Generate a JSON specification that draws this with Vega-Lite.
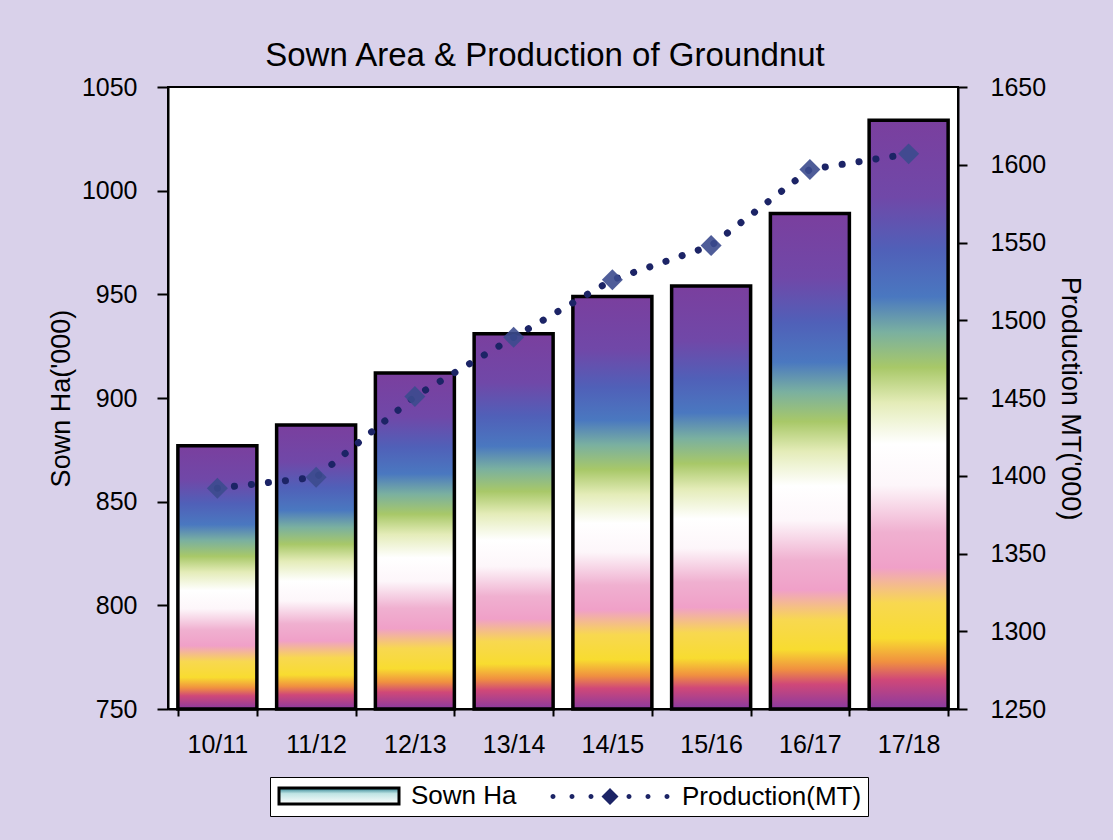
{
  "$schema": "https://vega.github.io/schema/vega-lite/v6.json",
  "autosize": {"type": "none"},
  "padding": {"left": 168, "top": 87, "right": 155, "bottom": 131},
  "width": 790,
  "height": 622,
  "background": "#d9d1ea",
  "title": {
    "text": "Sown Area & Production of Groundnut",
    "font": "Liberation Sans",
    "fontSize": 33,
    "fontWeight": "normal",
    "color": "black",
    "anchor": "middle",
    "offset": 2,
    "dx": -18
  },
  "data": {
    "values": [
      {"season": "10/11", "sown": 877, "production": 1392},
      {"season": "11/12", "sown": 887, "production": 1399},
      {"season": "12/13", "sown": 912, "production": 1451},
      {"season": "13/14", "sown": 931, "production": 1489},
      {"season": "14/15", "sown": 949, "production": 1526},
      {"season": "15/16", "sown": 954, "production": 1548},
      {"season": "16/17", "sown": 989, "production": 1597},
      {"season": "17/18", "sown": 1034, "production": 1607}
    ]
  },
  "encoding": {
    "x": {
      "field": "season",
      "type": "ordinal",
      "sort": null,
      "scale": {"paddingInner": 0.2, "paddingOuter": 0.1},
      "axis": {
        "title": null,
        "labelAngle": 0,
        "labelFont": "Liberation Sans",
        "labelFontSize": 25,
        "labelColor": "black",
        "labelPadding": 16,
        "tickBand": "extent",
        "tickSize": 7,
        "tickWidth": 2,
        "tickColor": "black",
        "domainColor": "black",
        "domainWidth": 2
      }
    }
  },
  "layer": [
    {
      "mark": {
        "type": "bar",
        "strokeWidth": 3.5,
        "fill": {
          "gradient": "linear",
          "x1": 0, "y1": 0, "x2": 0, "y2": 1,
          "stops": [
            {"offset": 0.0, "color": "#7a3f9e"},
            {"offset": 0.13, "color": "#7048a8"},
            {"offset": 0.22, "color": "#5060b8"},
            {"offset": 0.30, "color": "#4a78c0"},
            {"offset": 0.36, "color": "#7ab0a0"},
            {"offset": 0.42, "color": "#a8c868"},
            {"offset": 0.48, "color": "#e4ecb8"},
            {"offset": 0.55, "color": "#ffffff"},
            {"offset": 0.62, "color": "#fdf6fa"},
            {"offset": 0.70, "color": "#f0b0d0"},
            {"offset": 0.76, "color": "#f0a0c8"},
            {"offset": 0.82, "color": "#f8d850"},
            {"offset": 0.88, "color": "#f8dc30"},
            {"offset": 0.92, "color": "#f09040"},
            {"offset": 0.95, "color": "#d04878"},
            {"offset": 1.0, "color": "#8a3aa0"}
          ]
        }
      },
      "encoding": {
        "y": {
          "field": "sown",
          "type": "quantitative",
          "scale": {"domain": [750, 1050], "nice": false, "zero": false},
          "axis": {
            "orient": "left",
            "title": "Sown Ha('000)",
            "titleFont": "Liberation Sans",
            "titleFontSize": 27,
            "titleFontWeight": "normal",
            "titleColor": "black",
            "titlePadding": 6,
            "values": [750, 800, 850, 900, 950, 1000, 1050],
            "format": "d",
            "labelFont": "Liberation Sans",
            "labelFontSize": 25,
            "labelColor": "black",
            "labelPadding": 20,
            "tickSize": 11,
            "tickWidth": 2,
            "tickColor": "black",
            "domainColor": "black",
            "domainWidth": 2,
            "grid": false
          }
        },
        "y2": {"datum": 750},
        "stroke": {
          "datum": "Sown Ha",
          "type": "nominal",
          "scale": {"domain": ["Sown Ha", "Production(MT)"], "range": ["black", "#1c2466"]},
          "legend": {
            "title": null,
            "orient": "none",
            "legendX": 102,
            "legendY": 690,
            "direction": "horizontal",
            "fillColor": "white",
            "strokeColor": "black",
            "padding": 6,
            "columnPadding": 30,
            "symbolSize": 400,
            "symbolOffset": 50,
            "labelOffset": 59,
            "labelFont": "Liberation Sans",
            "labelFontSize": 26,
            "labelColor": "black",
            "labelLimit": 400,
            "encoding": {
              "symbols": {
                "shape": {"value": {"expr": "datum.value === 'Sown Ha' ? 'M-6,-0.8H6V0.8H-6Z' : 'M-5.95,0a0.25,0.25 0 1,0 0.5,0a0.25,0.25 0 1,0 -0.5,0M-4.05,0a0.25,0.25 0 1,0 0.5,0a0.25,0.25 0 1,0 -0.5,0M-2.15,0a0.25,0.25 0 1,0 0.5,0a0.25,0.25 0 1,0 -0.5,0M0,-0.85L0.85,0L0,0.85L-0.85,0ZM1.65,0a0.25,0.25 0 1,0 0.5,0a0.25,0.25 0 1,0 -0.5,0M3.55,0a0.25,0.25 0 1,0 0.5,0a0.25,0.25 0 1,0 -0.5,0M5.45,0a0.25,0.25 0 1,0 0.5,0a0.25,0.25 0 1,0 -0.5,0'"}},
                "fill": {"value": {"expr": "datum.value === 'Sown Ha' ? {gradient: 'linear', x1: 0, y1: 0, x2: 0, y2: 1, stops: [{offset: 0, color: '#2a8090'}, {offset: 0.35, color: '#bfe4e4'}, {offset: 1, color: '#ffffff'}]} : '#1c2466'"}},
                "stroke": {"value": {"expr": "datum.value === 'Sown Ha' ? 'black' : '#1c2466'"}},
                "strokeWidth": {"value": {"expr": "datum.value === 'Sown Ha' ? 3 : 0"}},
                "opacity": {"value": 1}
              }
            }
          }
        }
      }
    },
    {
      "encoding": {
        "y": {
          "field": "production",
          "type": "quantitative",
          "scale": {"domain": [1250, 1650], "nice": false, "zero": false},
          "axis": {
            "orient": "right",
            "title": "Production MT('000)",
            "titleFont": "Liberation Sans",
            "titleFontSize": 27,
            "titleFontWeight": "normal",
            "titleColor": "black",
            "titlePadding": 10,
            "values": [1250, 1300, 1350, 1400, 1450, 1500, 1550, 1600, 1650],
            "format": "d",
            "labelFont": "Liberation Sans",
            "labelFontSize": 25,
            "labelColor": "black",
            "labelPadding": 23,
            "tickSize": 9,
            "tickWidth": 2,
            "tickColor": "black",
            "domainColor": "black",
            "domainWidth": 2,
            "grid": false
          }
        }
      },
      "layer": [
        {
          "mark": {"type": "line", "strokeDash": [0.1, 17], "strokeCap": "round", "strokeWidth": 7},
          "encoding": {
            "stroke": {"datum": "Production(MT)", "type": "nominal"}
          }
        },
        {
          "mark": {"type": "point", "shape": "diamond", "size": 440, "filled": true, "color": "#3c4b8e", "opacity": 0.9}
        }
      ]
    }
  ],
  "resolve": {"scale": {"y": "independent"}},
  "config": {
    "font": "Liberation Sans",
    "view": {"fill": "white", "stroke": "black", "strokeWidth": 2}
  }
}
